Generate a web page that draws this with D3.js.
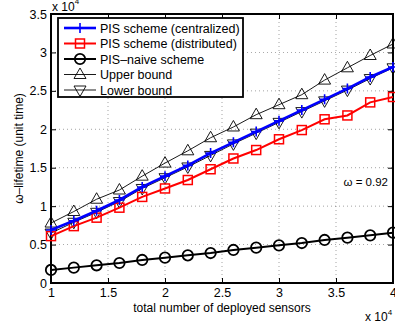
<!DOCTYPE html>
<html>
<head>
<meta charset="utf-8">
<script src="https://cdn.jsdelivr.net/npm/d3@7"></script>
<style>
  body { margin: 0; background: #fff; }
  svg text { font-family: "Liberation Sans", Arial, sans-serif; fill: #000; }
  .grid line { stroke: #000; stroke-width: 0.6; stroke-dasharray: 1,3; opacity: 0.6; }
</style>
</head>
<body>
<svg id="chart" width="395" height="323"></svg>
<script>
// x in units of 10^4 sensors
var sensors = [1, 1.2, 1.4, 1.6, 1.8, 2, 2.2, 2.4, 2.6, 2.8, 3, 3.2, 3.4, 3.6, 3.8, 4];
var centralized = [0.69, 0.81, 0.94, 1.08, 1.25, 1.39, 1.53, 1.69, 1.83, 1.97, 2.11, 2.25, 2.39, 2.53, 2.68, 2.81];
var distributed = [0.61, 0.74, 0.85, 0.98, 1.12, 1.23, 1.34, 1.48, 1.62, 1.73, 1.87, 1.99, 2.13, 2.18, 2.35, 2.42];
var naive = [0.17, 0.20, 0.23, 0.26, 0.30, 0.33, 0.36, 0.39, 0.43, 0.46, 0.49, 0.52, 0.56, 0.59, 0.62, 0.655];
var upper = [0.78, 0.93, 1.09, 1.21, 1.39, 1.56, 1.72, 1.89, 2.03, 2.19, 2.32, 2.45, 2.64, 2.80, 2.96, 3.11];
var lower = [0.65, 0.79, 0.92, 1.06, 1.23, 1.37, 1.51, 1.66, 1.81, 1.95, 2.09, 2.23, 2.37, 2.51, 2.66, 2.80];
var xTicks = [1, 1.5, 2, 2.5, 3, 3.5, 4];
var yTicks = [0, 0.5, 1, 1.5, 2, 2.5, 3, 3.5];

var margin = {top: 14, right: 2, bottom: 40, left: 51};
var width = 395 - margin.left - margin.right;
var height = 323 - margin.top - margin.bottom;

var svg = d3.select("#chart");
var g = svg.append("g").attr("transform", "translate(" + margin.left + "," + margin.top + ")");

var x = d3.scaleLinear().domain([1, 4]).range([0, width]);
var y = d3.scaleLinear().domain([0, 3.5]).range([height, 0]);

// grid
g.append("g").attr("class", "grid")
  .selectAll("line").data(xTicks.slice(1, -1)).enter().append("line")
  .attr("x1", function (d) { return x(d); }).attr("x2", function (d) { return x(d); })
  .attr("y1", 0).attr("y2", height);
g.append("g").attr("class", "grid")
  .selectAll("line").data(yTicks.slice(1, -1)).enter().append("line")
  .attr("x1", 0).attr("x2", width)
  .attr("y1", function (d) { return y(d); }).attr("y2", function (d) { return y(d); });

// axes, ticks inside
var xAxis = g.append("g").attr("transform", "translate(0," + height + ")")
  .call(d3.axisBottom(x).tickValues(xTicks).tickSize(-5).tickPadding(5).tickFormat(d3.format("")));
var xAxisTop = g.append("g")
  .call(d3.axisTop(x).tickValues(xTicks).tickSize(-5).tickFormat(""));
var yAxis = g.append("g")
  .call(d3.axisLeft(y).tickValues(yTicks).tickSize(-5).tickPadding(4).tickFormat(d3.format("")));
var yAxisRight = g.append("g").attr("transform", "translate(" + width + ",0)")
  .call(d3.axisRight(y).tickValues(yTicks).tickSize(-5).tickFormat(""));
[xAxis, xAxisTop, yAxis, yAxisRight].forEach(function (a) {
  a.select(".domain").remove();
  a.selectAll("line").attr("stroke", "#000").attr("stroke-width", 1);
  a.selectAll("text").style("font-size", "12.5px").style("font-family", "Liberation Sans, Arial, sans-serif");
});

g.append("rect").attr("width", width).attr("height", height)
  .attr("fill", "none").attr("stroke", "#000").attr("stroke-width", 2);

// series
var series = [
  {name: "PIS scheme (centralized)", values: centralized, color: "#0000ff", lw: 2.6, marker: "plus"},
  {name: "PIS scheme (distributed)", values: distributed, color: "#ff0000", lw: 2, marker: "square"},
  {name: "PIS\u2013naive scheme", values: naive, color: "#000", lw: 2, marker: "circle"},
  {name: "Upper bound", values: upper, color: "#000", lw: 0.9, marker: "up"},
  {name: "Lower bound", values: lower, color: "#000", lw: 0.9, marker: "down"}
];
var drawOrder = [3, 4, 2, 1, 0];

function drawMarker(sel, type, color, cx, cy) {
  if (type === "plus") {
    sel.append("path").attr("d", "M" + (cx - 5) + "," + cy + "H" + (cx + 5) + "M" + cx + "," + (cy - 5) + "V" + (cy + 5))
      .attr("stroke", color).attr("stroke-width", 1.6).attr("fill", "none");
  } else if (type === "square") {
    sel.append("rect").attr("x", cx - 4.5).attr("y", cy - 4.5).attr("width", 9).attr("height", 9)
      .attr("stroke", color).attr("stroke-width", 1.5).attr("fill", "none");
  } else if (type === "circle") {
    sel.append("circle").attr("cx", cx).attr("cy", cy).attr("r", 5.2)
      .attr("stroke", color).attr("stroke-width", 1.8).attr("fill", "none");
  } else if (type === "up") {
    sel.append("path").attr("d", "M" + cx + "," + (cy - 6.5) + "L" + (cx + 6) + "," + (cy + 4) + "L" + (cx - 6) + "," + (cy + 4) + "Z")
      .attr("stroke", color).attr("stroke-width", 0.9).attr("fill", "none");
  } else if (type === "down") {
    sel.append("path").attr("d", "M" + cx + "," + (cy + 6.5) + "L" + (cx + 6) + "," + (cy - 4) + "L" + (cx - 6) + "," + (cy - 4) + "Z")
      .attr("stroke", color).attr("stroke-width", 0.9).attr("fill", "none");
  }
}

var line = d3.line().x(function (d, i) { return x(sensors[i]); }).y(function (d) { return y(d); });

drawOrder.forEach(function (k) {
  var s = series[k];
  var sg = g.append("g");
  sg.append("path").datum(s.values).attr("d", line)
    .attr("fill", "none").attr("stroke", s.color).attr("stroke-width", s.lw);
  s.values.forEach(function (v, i) {
    drawMarker(sg, s.marker, s.color, x(sensors[i]), y(v));
  });
});

// legend
var leg = svg.append("g").attr("transform", "translate(58,18)");
leg.append("rect").attr("width", 185).attr("height", 79)
  .attr("fill", "#fff").attr("stroke", "#000").attr("stroke-width", 1.8);
series.forEach(function (s, i) {
  var ly = 10 + i * 15.5;
  leg.append("line").attr("x1", 6).attr("x2", 38).attr("y1", ly).attr("y2", ly)
    .attr("stroke", s.color).attr("stroke-width", s.lw);
  drawMarker(leg, s.marker, s.color, 22, ly);
  leg.append("text").attr("x", 42).attr("y", ly + 4.5)
    .style("font-size", "12.5px").text(s.name);
});

// annotations
svg.append("text").attr("x", 388).attr("y", 186).attr("text-anchor", "end")
  .style("font-size", "11.5px").text("\u03c9 = 0.92");

svg.append("text").attr("transform", "translate(23," + (margin.top + height / 2) + ") rotate(-90)")
  .attr("text-anchor", "middle").style("font-size", "12px").text("\u03c9\u2013lifetime (unit time)");

svg.append("text").attr("x", margin.left + width / 2).attr("y", 312)
  .attr("text-anchor", "middle").style("font-size", "12px").text("total number of deployed sensors");

var xe = svg.append("text").attr("x", 365).attr("y", 321).style("font-size", "12px");
xe.append("tspan").text("x 10");
xe.append("tspan").attr("dy", -6).style("font-size", "8px").text("4");

var ye = svg.append("text").attr("x", 52).attr("y", 11).style("font-size", "12px");
ye.append("tspan").text("x 10");
ye.append("tspan").attr("dy", -7).style("font-size", "8px").text("4");
</script>
</body>
</html>
